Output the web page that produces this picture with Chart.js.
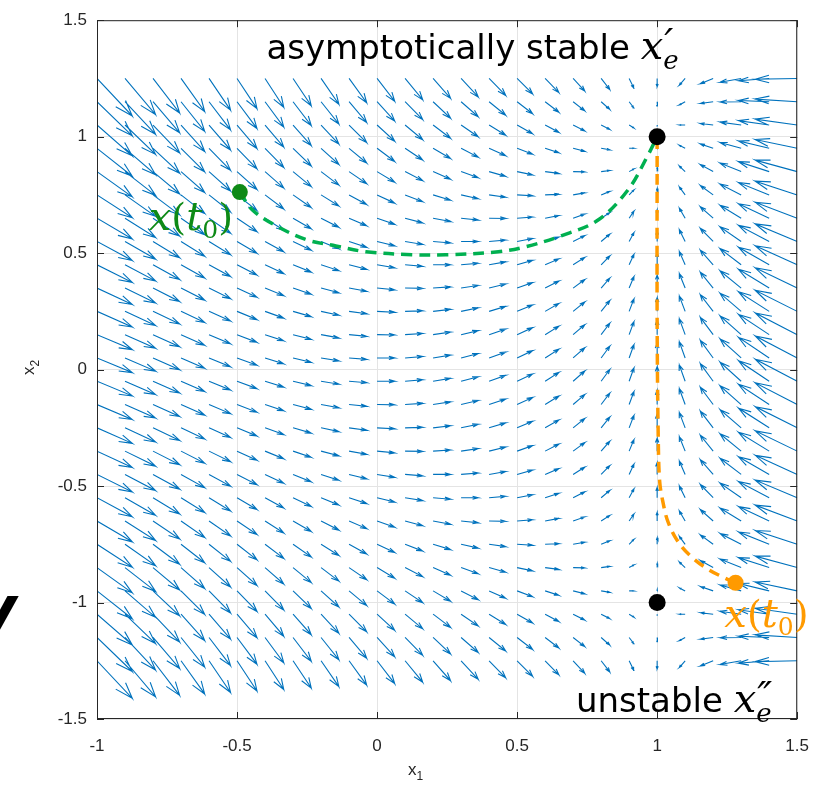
<!DOCTYPE html>
<html>
<head>
<meta charset="utf-8">
<script src="https://cdn.jsdelivr.net/npm/chart.js@4.4.0/dist/chart.umd.min.js"></script>
<style>
  html, body { margin: 0; padding: 0; background: #fff; }
</style>
</head>
<body>
<canvas id="phase" width="826" height="787"></canvas>
<script>
// Vector field grid (arrow tails)
const gridX1 = [-1.0, -0.9, -0.8, -0.7, -0.6, -0.5, -0.4, -0.3, -0.2, -0.1, 0.0, 0.1, 0.2,
                0.3, 0.4, 0.5, 0.6, 0.7, 0.8, 0.9, 1.0, 1.1, 1.2, 1.3, 1.4, 1.5];
const gridX2 = [1.25, 1.15, 1.05, 0.95, 0.85, 0.75, 0.65, 0.55, 0.45, 0.35, 0.25, 0.15, 0.05,
                -0.05, -0.15, -0.25, -0.35, -0.45, -0.55, -0.65, -0.75, -0.85, -0.95, -1.05, -1.15, -1.25];

// horizontal arrow component, one value per column (same on every row)
const arrowU = [2.00, 1.73, 1.51, 1.34, 1.22, 1.13, 1.06, 1.03, 1.01, 1.00, 1.00, 1.00, 0.99,
                0.97, 0.94, 0.88, 0.78, 0.66, 0.49, 0.27, 0.00, -0.33, -0.73, -1.20, -1.74, -2.38];

// vertical arrow component, one row per gridX2 value
const arrowV = [
  [-2.56,-2.46,-2.36,-2.26,-2.16,-2.06,-1.96,-1.86,-1.76,-1.66,-1.56,-1.46,-1.36,-1.26,-1.16,-1.06,-0.96,-0.86,-0.76,-0.66,-0.56,-0.46,-0.36,-0.26,-0.16,-0.06],
  [-2.32,-2.22,-2.12,-2.02,-1.92,-1.82,-1.72,-1.62,-1.52,-1.42,-1.32,-1.22,-1.12,-1.02,-0.92,-0.82,-0.72,-0.62,-0.52,-0.42,-0.32,-0.22,-0.12,-0.02,0.08,0.18],
  [-2.10,-2.00,-1.90,-1.80,-1.70,-1.60,-1.50,-1.40,-1.30,-1.20,-1.10,-1.00,-0.90,-0.80,-0.70,-0.60,-0.50,-0.40,-0.30,-0.20,-0.10,0.00,0.10,0.20,0.30,0.40],
  [-1.90,-1.80,-1.70,-1.60,-1.50,-1.40,-1.30,-1.20,-1.10,-1.00,-0.90,-0.80,-0.70,-0.60,-0.50,-0.40,-0.30,-0.20,-0.10,0.00,0.10,0.20,0.30,0.40,0.50,0.60],
  [-1.72,-1.62,-1.52,-1.42,-1.32,-1.22,-1.12,-1.02,-0.92,-0.82,-0.72,-0.62,-0.52,-0.42,-0.32,-0.22,-0.12,-0.02,0.08,0.18,0.28,0.38,0.48,0.58,0.68,0.78],
  [-1.56,-1.46,-1.36,-1.26,-1.16,-1.06,-0.96,-0.86,-0.76,-0.66,-0.56,-0.46,-0.36,-0.26,-0.16,-0.06,0.04,0.14,0.24,0.34,0.44,0.54,0.64,0.74,0.84,0.94],
  [-1.42,-1.32,-1.22,-1.12,-1.02,-0.92,-0.82,-0.72,-0.62,-0.52,-0.42,-0.32,-0.22,-0.12,-0.02,0.08,0.18,0.28,0.38,0.48,0.58,0.68,0.78,0.88,0.98,1.08],
  [-1.30,-1.20,-1.10,-1.00,-0.90,-0.80,-0.70,-0.60,-0.50,-0.40,-0.30,-0.20,-0.10,0.00,0.10,0.20,0.30,0.40,0.50,0.60,0.70,0.80,0.90,1.00,1.10,1.20],
  [-1.20,-1.10,-1.00,-0.90,-0.80,-0.70,-0.60,-0.50,-0.40,-0.30,-0.20,-0.10,0.00,0.10,0.20,0.30,0.40,0.50,0.60,0.70,0.80,0.90,1.00,1.10,1.20,1.30],
  [-1.12,-1.02,-0.92,-0.82,-0.72,-0.62,-0.52,-0.42,-0.32,-0.22,-0.12,-0.02,0.08,0.18,0.28,0.38,0.48,0.58,0.68,0.78,0.88,0.98,1.08,1.18,1.28,1.38],
  [-1.06,-0.96,-0.86,-0.76,-0.66,-0.56,-0.46,-0.36,-0.26,-0.16,-0.06,0.04,0.14,0.24,0.34,0.44,0.54,0.64,0.74,0.84,0.94,1.04,1.14,1.24,1.34,1.44],
  [-1.02,-0.92,-0.82,-0.72,-0.62,-0.52,-0.42,-0.32,-0.22,-0.12,-0.02,0.08,0.18,0.28,0.38,0.48,0.58,0.68,0.78,0.88,0.98,1.08,1.18,1.28,1.38,1.48],
  [-1.00,-0.90,-0.80,-0.70,-0.60,-0.50,-0.40,-0.30,-0.20,-0.10,0.00,0.10,0.20,0.30,0.40,0.50,0.60,0.70,0.80,0.90,1.00,1.10,1.20,1.30,1.40,1.50],
  [-1.00,-0.90,-0.80,-0.70,-0.60,-0.50,-0.40,-0.30,-0.20,-0.10,0.00,0.10,0.20,0.30,0.40,0.50,0.60,0.70,0.80,0.90,1.00,1.10,1.20,1.30,1.40,1.50],
  [-1.02,-0.92,-0.82,-0.72,-0.62,-0.52,-0.42,-0.32,-0.22,-0.12,-0.02,0.08,0.18,0.28,0.38,0.48,0.58,0.68,0.78,0.88,0.98,1.08,1.18,1.28,1.38,1.48],
  [-1.06,-0.96,-0.86,-0.76,-0.66,-0.56,-0.46,-0.36,-0.26,-0.16,-0.06,0.04,0.14,0.24,0.34,0.44,0.54,0.64,0.74,0.84,0.94,1.04,1.14,1.24,1.34,1.44],
  [-1.12,-1.02,-0.92,-0.82,-0.72,-0.62,-0.52,-0.42,-0.32,-0.22,-0.12,-0.02,0.08,0.18,0.28,0.38,0.48,0.58,0.68,0.78,0.88,0.98,1.08,1.18,1.28,1.38],
  [-1.20,-1.10,-1.00,-0.90,-0.80,-0.70,-0.60,-0.50,-0.40,-0.30,-0.20,-0.10,0.00,0.10,0.20,0.30,0.40,0.50,0.60,0.70,0.80,0.90,1.00,1.10,1.20,1.30],
  [-1.30,-1.20,-1.10,-1.00,-0.90,-0.80,-0.70,-0.60,-0.50,-0.40,-0.30,-0.20,-0.10,0.00,0.10,0.20,0.30,0.40,0.50,0.60,0.70,0.80,0.90,1.00,1.10,1.20],
  [-1.42,-1.32,-1.22,-1.12,-1.02,-0.92,-0.82,-0.72,-0.62,-0.52,-0.42,-0.32,-0.22,-0.12,-0.02,0.08,0.18,0.28,0.38,0.48,0.58,0.68,0.78,0.88,0.98,1.08],
  [-1.56,-1.46,-1.36,-1.26,-1.16,-1.06,-0.96,-0.86,-0.76,-0.66,-0.56,-0.46,-0.36,-0.26,-0.16,-0.06,0.04,0.14,0.24,0.34,0.44,0.54,0.64,0.74,0.84,0.94],
  [-1.72,-1.62,-1.52,-1.42,-1.32,-1.22,-1.12,-1.02,-0.92,-0.82,-0.72,-0.62,-0.52,-0.42,-0.32,-0.22,-0.12,-0.02,0.08,0.18,0.28,0.38,0.48,0.58,0.68,0.78],
  [-1.90,-1.80,-1.70,-1.60,-1.50,-1.40,-1.30,-1.20,-1.10,-1.00,-0.90,-0.80,-0.70,-0.60,-0.50,-0.40,-0.30,-0.20,-0.10,0.00,0.10,0.20,0.30,0.40,0.50,0.60],
  [-2.10,-2.00,-1.90,-1.80,-1.70,-1.60,-1.50,-1.40,-1.30,-1.20,-1.10,-1.00,-0.90,-0.80,-0.70,-0.60,-0.50,-0.40,-0.30,-0.20,-0.10,0.00,0.10,0.20,0.30,0.40],
  [-2.32,-2.22,-2.12,-2.02,-1.92,-1.82,-1.72,-1.62,-1.52,-1.42,-1.32,-1.22,-1.12,-1.02,-0.92,-0.82,-0.72,-0.62,-0.52,-0.42,-0.32,-0.22,-0.12,-0.02,0.08,0.18],
  [-2.56,-2.46,-2.36,-2.26,-2.16,-2.06,-1.96,-1.86,-1.76,-1.66,-1.56,-1.46,-1.36,-1.26,-1.16,-1.06,-0.96,-0.86,-0.76,-0.66,-0.56,-0.46,-0.36,-0.26,-0.16,-0.06]
];
const arrowScale = 0.063;

// trajectories
const greenX = [-0.49, -0.445, -0.36, -0.25, -0.147, -0.04, 0.124, 0.245, 0.433, 0.529, 0.657, 0.789, 0.895, 0.967, 1.0];
const greenY = [0.762, 0.685, 0.617, 0.557, 0.531, 0.506, 0.493, 0.493, 0.506, 0.527, 0.574, 0.642, 0.77, 0.92, 1.0];
const orangeX = [1.28, 1.24, 1.18, 1.119, 1.073, 1.038, 1.02, 1.009, 1.004, 1.0, 1.0];
const orangeY = [-0.915, -0.894, -0.856, -0.80, -0.736, -0.651, -0.565, -0.48, -0.3, 0.2, 1.0];

const equilibriaX = [1, 1];
const equilibriaY = [1, -1];

const xTicks = [-1, -0.5, 0, 0.5, 1, 1.5];
const yTicks = [-1.5, -1, -0.5, 0, 0.5, 1, 1.5];

// Build quiver segments (tail -> tip, plus two head strokes), gaps split them
function buildArrows() {
    const pts = [];
    const a = 0.33, b = 0.33;
    gridX2.forEach((y, r) => {
        gridX1.forEach((x, c) => {
            const u = arrowU[c] * arrowScale;
            const v = arrowV[r][c] * arrowScale;
            const tx = x + u, ty = y + v;
            pts.push({ x: x, y: y }, { x: tx, y: ty });
            pts.push({ x: tx - a * (u + b * v), y: ty - a * (v - b * u) });
            pts.push({ x: tx, y: null });
            pts.push({ x: tx, y: ty });
            pts.push({ x: tx - a * (u - b * v), y: ty - a * (v + b * u) });
            pts.push({ x: tx, y: null });
        });
    });
    return pts;
}

function zipXY(xs, ys) {
    return xs.map((x, i) => ({ x: x, y: ys[i] }));
}

// Draw a run of text pieces (different fonts / offsets) starting at x,y
function drawRuns(ctx, runs, x, y, color) {
    ctx.fillStyle = color;
    ctx.textAlign = 'left';
    ctx.textBaseline = 'alphabetic';
    let cx = x;
    runs.forEach(r => {
        ctx.font = r.font;
        ctx.fillText(r.text, cx + (r.dx || 0), y + (r.dy || 0));
        if (!r.stack) cx += ctx.measureText(r.text).width + (r.dx || 0);
    });
}

const decorPlugin = {
    id: 'decor',
    afterDraw(chart) {
        const { ctx, chartArea: ca, scales } = chart;
        const sx = scales.x, sy = scales.y;
        ctx.save();

        // box + inward ticks
        ctx.strokeStyle = '#262626';
        ctx.lineWidth = 1;
        ctx.strokeRect(ca.left + 0.5, ca.top + 0.5, ca.right - ca.left - 1, ca.bottom - ca.top - 1);
        ctx.beginPath();
        xTicks.forEach(v => {
            const px = Math.round(sx.getPixelForValue(v)) + 0.5;
            ctx.moveTo(px, ca.bottom); ctx.lineTo(px, ca.bottom - 7);
            ctx.moveTo(px, ca.top); ctx.lineTo(px, ca.top + 7);
        });
        yTicks.forEach(v => {
            const py = Math.round(sy.getPixelForValue(v)) + 0.5;
            ctx.moveTo(ca.left, py); ctx.lineTo(ca.left + 7, py);
            ctx.moveTo(ca.right, py); ctx.lineTo(ca.right - 7, py);
        });
        ctx.stroke();

        // axis titles
        const tf = '17px "Liberation Sans"';
        const sf = '12px "Liberation Sans"';
        drawRuns(ctx, [{ text: 'x', font: tf }, { text: '1', font: sf, dy: 5 }], 408, 775, '#262626');
        ctx.save();
        ctx.translate(34, 375);
        ctx.rotate(-Math.PI / 2);
        drawRuns(ctx, [{ text: 'x', font: tf }, { text: '2', font: sf, dy: 5 }], 0, 0, '#262626');
        ctx.restore();

        // annotations
        const sans = '34px "DejaVu Sans"';
        const mi = 'italic 40px "DejaVu Serif"';
        const mr = '38px "DejaVu Serif"';
        const sub = '25px "DejaVu Serif"';
        const subI = 'italic 26px "DejaVu Serif"';
        drawRuns(ctx, [
            { text: 'asymptotically stable ', font: sans },
            { text: 'x', font: mi },
            { text: '\u2032', font: 'italic 40px "DejaVu Serif"', dx: 1, dy: -2, stack: true },
            { text: 'e', font: subI, dy: 10 }
        ], sx.getPixelForValue(-0.395), sy.getPixelForValue(1.335), '#000');

        drawRuns(ctx, [
            { text: 'unstable ', font: sans },
            { text: 'x', font: mi },
            { text: '\u2033', font: 'italic 40px "DejaVu Serif"', dx: 1, dy: -2, stack: true },
            { text: 'e', font: subI, dy: 10 }
        ], sx.getPixelForValue(0.71), sy.getPixelForValue(-1.47), '#000');

        const t0 = [
            { text: 'x', font: mi },
            { text: '(', font: mr },
            { text: 't', font: mi },
            { text: '0', font: sub, dy: 8 },
            { text: ')', font: mr }
        ];
        drawRuns(ctx, t0, sx.getPixelForValue(-0.815), sy.getPixelForValue(0.6), '#0E8A16');
        drawRuns(ctx, t0, sx.getPixelForValue(1.24), sy.getPixelForValue(-1.105), '#FF9A00');

        // clipped glyph at the far left edge
        ctx.fillStyle = '#000';
        ctx.font = 'bold italic 58px "DejaVu Sans"';
        ctx.fillText('V', -30, 639);

        ctx.restore();
    }
};

new Chart(document.getElementById('phase'), {
    type: 'scatter',
    data: {
        datasets: [
            { label: 'equilibria', data: zipXY(equilibriaX, equilibriaY), pointRadius: 8.5,
              pointBackgroundColor: '#000', pointBorderWidth: 0 },
            { label: 'green start', data: [{ x: greenX[0], y: greenY[0] }], pointRadius: 8,
              pointBackgroundColor: '#0E8A16', pointBorderWidth: 0 },
            { label: 'orange start', data: [{ x: orangeX[0], y: orangeY[0] }], pointRadius: 8,
              pointBackgroundColor: '#FF9A00', pointBorderWidth: 0 },
            { label: 'green path', data: zipXY(greenX, greenY), showLine: true, pointRadius: 0,
              borderColor: '#00B050', borderWidth: 3.5, borderDash: [11, 7], tension: 0.35 },
            { label: 'orange path', data: zipXY(orangeX, orangeY), showLine: true, pointRadius: 0,
              borderColor: '#FF9A00', borderWidth: 3.5, borderDash: [11, 7], tension: 0.35 },
            { label: 'field', data: buildArrows(), showLine: true, pointRadius: 0,
              borderColor: '#0072BD', borderWidth: 1.1, spanGaps: false }
        ]
    },
    options: {
        responsive: false,
        animation: false,
        layout: { padding: { left: 0, right: 26, top: 16, bottom: 0 } },
        plugins: { legend: { display: false }, tooltip: { enabled: false } },
        scales: {
            x: {
                type: 'linear', min: -1, max: 1.5,
                afterBuildTicks: s => { s.ticks = xTicks.map(v => ({ value: v })); },
                afterFit: s => { s.height = 68; },
                grid: { color: '#e4e4e4', drawTicks: false },
                border: { display: false },
                ticks: { padding: 17, color: '#262626', maxRotation: 0,
                         callback: v => String(v),
                         font: { family: 'Liberation Sans', size: 17 } }
            },
            y: {
                type: 'linear', min: -1.5, max: 1.5,
                afterBuildTicks: s => { s.ticks = yTicks.map(v => ({ value: v })); },
                afterFit: s => { s.width = 97; },
                grid: { color: '#e4e4e4', drawTicks: false },
                border: { display: false },
                ticks: { padding: 10, color: '#262626',
                         callback: v => String(v),
                         font: { family: 'Liberation Sans', size: 17 } }
            }
        }
    },
    plugins: [decorPlugin]
});
</script>
</body>
</html>
